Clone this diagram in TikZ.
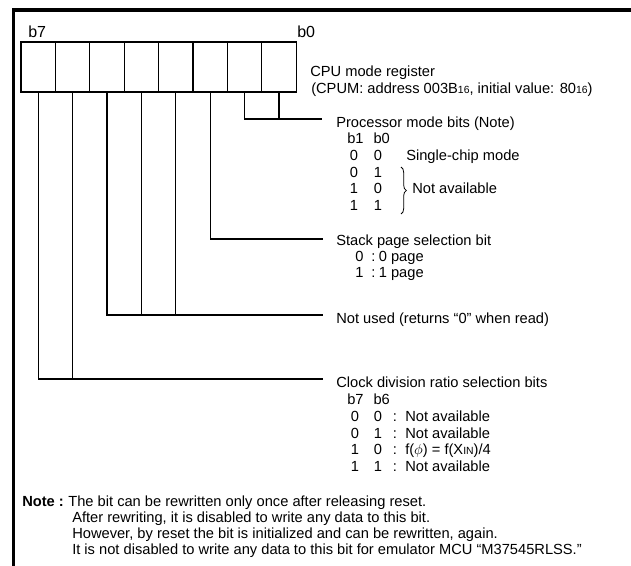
\documentclass[tikz,border=0pt]{standalone}
\usepackage{fontspec}
\setmainfont{Liberation Sans}
\usetikzlibrary{positioning,decorations.pathreplacing}
\newcommand{\hexsub}[1]{{\fontsize{7.8}{8}\selectfont #1}}
\tikzset{
  txt/.style={anchor=west,inner sep=0pt,text height=7.9pt,text depth=2.2pt,
    font=\fontsize{11}{12}\selectfont},
  dig/.style={inner sep=0pt,text height=7.9pt,text depth=2.2pt,
    font=\fontsize{11}{12}\selectfont},
  cell/.style={draw,line width=0.8pt,inner sep=0pt,outer sep=0pt,
    minimum width=25.8pt,minimum height=37.5pt},
  wire/.style={line width=0.8pt},
  frame/.style={line width=2.6pt}
}

\begin{document}
\begin{tikzpicture}[x=0.75pt,y=-0.75pt]
  \useasboundingbox (0,0) rectangle (631,566);
  \draw[frame] (13.5,566) -- (13.5,10) -- (631,10);
  % register cells, b7 on the left
  \foreach \i in {0,...,7}
    \node[cell] (c\i) at ({21+(7.5-\i)*34.4},67) {};
  \node[txt,font=\fontsize{12}{12}\selectfont] (lb7) at (28,34) {b7};
  \node[txt,font=\fontsize{12}{12}\selectfont] (lb0) at (297,34) {b0};
  \node[txt] (reg) at (310,73) {CPU mode register};
  \node[txt] (regsub) at (311,90) {(CPUM: address 003B\hexsub{16}, initial value: 80\hexsub{16})};
  % processor mode bits
  \coordinate (pmend) at (322,119);
  \draw[wire] (c1.south) |- (pmend);
  \draw[wire] (c0.south) -- (c0.south |- pmend);
  \node[txt] (pm) at (336,124) {Processor mode bits (Note)};
  \node[txt] (pmhd) at (347,140) {b1\hspace{7.5pt}b0};
  \foreach \a/\b/\y [count=\k] in {0/0/157,0/1/174,1/0/190,1/1/207} {
    \node[dig] (pma\k) at (354,\y) {\a};
    \node[dig] (pmb\k) at (378,\y) {\b};
  }
  \node[txt] (single) at (406,157) {Single-chip mode};
  \draw[wire,line width=0.6pt,decorate,decoration={brace,amplitude=4pt}]
    (401,167) -- (401,214);
  \node[txt] (pmna) at (412,190) {Not available};
  % stack page selection bit
  \coordinate (stkend) at (323,239);
  \draw[wire] (c2.south) |- (stkend);
  \node[txt] (stk) at (336,242) {Stack page selection bit};
  \node[txt] (stk0) at (355,258) {0\hspace{6pt}:\hspace{2.5pt}0 page};
  \node[txt] (stk1) at (355,274) {1\hspace{6pt}:\hspace{2.5pt}1 page};
  % not used
  \coordinate (nuend) at (323,315);
  \draw[wire] (c5.south) |- (nuend);
  \foreach \i in {3,4}
    \draw[wire] (c\i.south) -- (c\i.south |- nuend);
  \node[txt] (nu) at (336,320) {Not used (returns “0” when read)};
  % clock division ratio selection bits
  \coordinate (ckend) at (323,379);
  \draw[wire] (c7.south) |- (ckend);
  \draw[wire] (c6.south) -- (c6.south |- ckend);
  \node[txt] (ck) at (336,384) {Clock division ratio selection bits};
  \node[txt] (ckhd) at (347,401) {b7\hspace{7.5pt}b6};
  \foreach \a/\b/\y/\t [count=\k] in {0/0/418/Not available,0/1/435/Not available,
      1/0/451/{f($\phi$) = f(X\hexsub{IN})/4},1/1/468/Not available} {
    \node[dig] (cka\k) at (355,\y) {\a};
    \node[dig] (ckb\k) at (378,\y) {\b};
    \node[dig] (ckc\k) at (395,\y) {:};
    \node[txt] (ckt\k) at (405,\y) {\t};
  }
  % note
  \node[txt,font=\fontsize{11}{12}\selectfont\bfseries] (note) at (22,503) {Note :};
  \node[txt,right=3pt of note] (nt1) {The bit can be rewritten only once after releasing reset.};
  \node[txt] (nt2) at (72,519) {After rewriting, it is disabled to write any data to this bit.};
  \node[txt] (nt3) at (72,535) {However, by reset the bit is initialized and can be rewritten, again.};
  \node[txt] (nt4) at (72,551) {It is not disabled to write any data to this bit for emulator MCU “M37545RLSS.”};
\end{tikzpicture}
\end{document}
